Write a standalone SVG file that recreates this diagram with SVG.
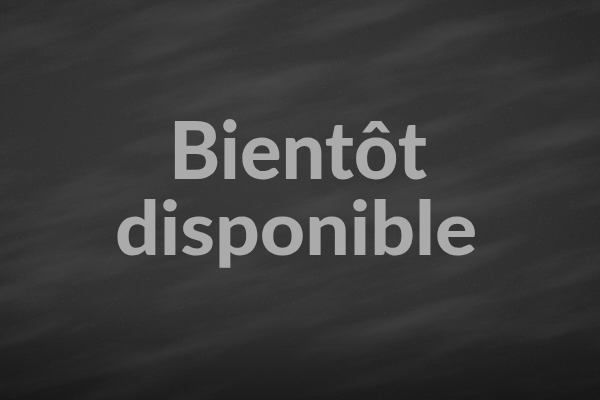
<svg xmlns="http://www.w3.org/2000/svg" width="600" height="400" viewBox="0 0 600 400">
  <defs>
    <radialGradient id="board" cx="0.45" cy="0.4" r="0.75">
      <stop offset="0" stop-color="#3b3b3b"/>
      <stop offset="0.6" stop-color="#323232"/>
      <stop offset="1" stop-color="#232323"/>
    </radialGradient>
    <linearGradient id="bottom" x1="0" y1="0" x2="0" y2="1">
      <stop offset="0.75" stop-color="#000" stop-opacity="0"/>
      <stop offset="1" stop-color="#000" stop-opacity="0.35"/>
    </linearGradient>
    <filter id="chalk" x="0" y="0" width="100%" height="100%">
      <feTurbulence type="fractalNoise" baseFrequency="0.006 0.03" numOctaves="5" seed="11" result="n"/>
      <feColorMatrix in="n" type="matrix" values="0 0 0 0 1  0 0 0 0 1  0 0 0 0 1  0 0 0 1.4 -0.6" result="streak"/>
      <feTurbulence type="fractalNoise" baseFrequency="0.8" numOctaves="2" seed="3" result="g"/>
      <feColorMatrix in="g" type="matrix" values="0 0 0 0 1  0 0 0 0 1  0 0 0 0 1  0 0 0 3 -1.95" result="dust"/>
      <feMerge><feMergeNode in="streak"/><feMergeNode in="dust"/></feMerge>
    </filter>
    <style>
      .title { font-family: "Lato", "Liberation Sans", sans-serif; font-weight: 900; fill: #ababab; text-anchor: middle; }
    </style>
  </defs>
  <rect width="600" height="400" fill="url(#board)"/>
  <rect x="-150" y="-150" width="900" height="700" filter="url(#chalk)" opacity="0.12" transform="rotate(-15 300 200)"/>
  <rect width="600" height="400" fill="url(#bottom)"/>
  <g id="text">
    <text class="title" x="298" y="179" font-size="80" textLength="258" lengthAdjust="spacingAndGlyphs">Bientôt</text>
    <text class="title" x="296" y="255" font-size="74" textLength="362" lengthAdjust="spacingAndGlyphs">disponible</text>
  </g>
</svg>
